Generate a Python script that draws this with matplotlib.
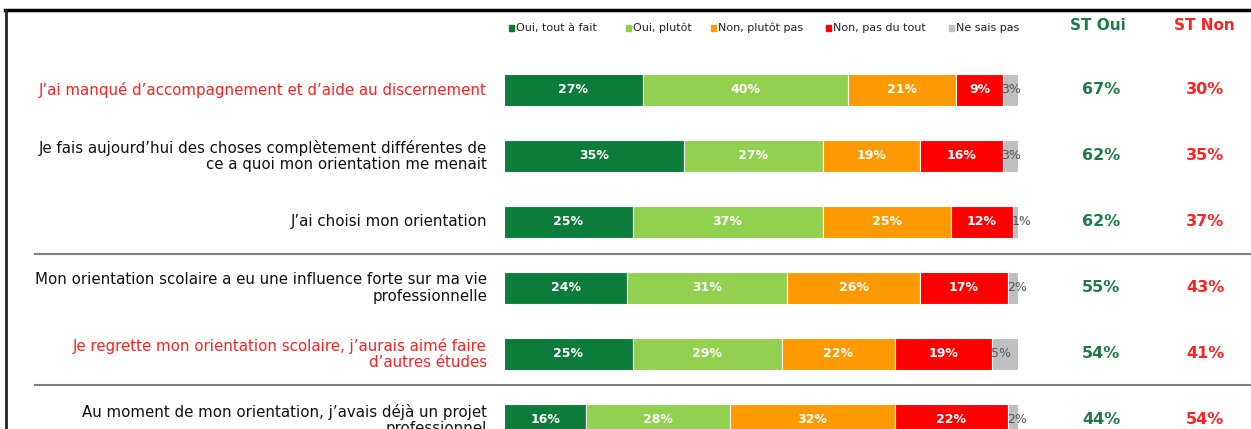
import matplotlib
matplotlib.use("Agg")
import matplotlib.pyplot as plt
import matplotlib.transforms as mtransforms
from matplotlib.lines import Line2D
from matplotlib.patches import Rectangle

plt.rcParams["font.family"] = ["DejaVu Sans"]

CATEGORIES = ["Oui, tout à fait", "Oui, plutôt", "Non, plutôt pas",
              "Non, pas du tout", "Ne sais pas"]
QUESTIONS = [
    "J’ai manqué d’accompagnement et d’aide au discernement",
    "Je fais aujourd’hui des choses complètement différentes de\nce a quoi mon orientation me menait",
    "J’ai choisi mon orientation",
    "Mon orientation scolaire a eu une influence forte sur ma vie\nprofessionnelle",
    "Je regrette mon orientation scolaire, j’aurais aimé faire\nd’autres études",
    "Au moment de mon orientation, j’avais déjà un projet\nprofessionnel",
]
HIGHLIGHT = [True, False, False, False, True, False]

OUI_TOUT = [27, 35, 25, 24, 25, 16]
OUI_PLUTOT = [40, 27, 37, 31, 29, 28]
NON_PLUTOT = [21, 19, 25, 26, 22, 32]
NON_PAS = [9, 16, 12, 17, 19, 22]
NSP = [3, 3, 1, 2, 5, 2]
ST_OUI = [67, 62, 62, 55, 54, 44]
ST_NON = [30, 35, 37, 43, 41, 54]

COLORS = ["#0B7C3A", "#92D050", "#FF9900", "#FF0000", "#BFBFBF"]
GREEN_TEXT = "#1E7B45"
RED_TEXT = "#FF2020"

W, H = 1251, 429
fig = plt.figure(figsize=(W / 100, H / 100), dpi=100)

# axes covering the bar area: x in percent, y in row index
ax = fig.add_axes([504 / W, 0, 514 / W, 1])
ax.set_xlim(0, 100)
ax.set_ylim((H - 90) / 66.0, -90 / 66.0)
ax.axis("off")

series = [OUI_TOUT, OUI_PLUTOT, NON_PLUTOT, NON_PAS, NSP]
n = len(QUESTIONS)
lefts = [0] * n
for k, (vals, color) in enumerate(zip(series, COLORS)):
    ax.barh(range(n), vals, left=lefts, height=0.485, color=color,
            edgecolor="white", linewidth=0.8, clip_on=False)
    for i, v in enumerate(vals):
        if k < 4:
            ax.text(lefts[i] + v / 2, i, f"{v}%", color="white",
                    fontsize=9, fontweight="bold", ha="center",
                    va="center")
        else:
            ax.text(lefts[i] - 0.2, i, f"{v}%", color="#555555",
                    fontsize=9, ha="left", va="center")
    lefts = [a + b for a, b in zip(lefts, vals)]

fig_x = mtransforms.blended_transform_factory(fig.transFigure, ax.transData)
for i, q in enumerate(QUESTIONS):
    ax.text(487 / W, i, q, transform=fig_x, ha="right", va="center",
            fontsize=10.8, color=RED_TEXT if HIGHLIGHT[i] else "#111111",
            linespacing=1.1, clip_on=False)
    ax.text(1101 / W, i, f"{ST_OUI[i]}%", transform=fig_x, ha="center",
            va="center", fontsize=11.5, fontweight="bold", color=GREEN_TEXT)
    ax.text(1205 / W, i, f"{ST_NON[i]}%", transform=fig_x, ha="center",
            va="center", fontsize=11.5, fontweight="bold", color=RED_TEXT)

# headers
fig.text(1098 / W, 1 - 25 / H, "ST Oui", ha="center", va="center",
         fontsize=11, fontweight="bold", color=GREEN_TEXT)
fig.text(1204 / W, 1 - 25 / H, "ST Non", ha="center", va="center",
         fontsize=11, fontweight="bold", color=RED_TEXT)

# legend
leg_x = [511, 628, 713, 828, 951]
for x, lab, color in zip(leg_x, CATEGORIES, COLORS):
    fig.patches.append(Rectangle(((x - 2.5) / W, 1 - 30.5 / H), 5 / W, 5 / H,
                                 transform=fig.transFigure, color=color))
    fig.text((x + 5) / W, 1 - 28 / H, lab, ha="left", va="center",
             fontsize=8, color="#222222")

# frame and separators
fig.lines.append(Line2D([5 / W, 1], [1 - 9.5 / H] * 2, transform=fig.transFigure,
                        color="black", linewidth=2.5))
fig.lines.append(Line2D([6 / W] * 2, [0, 1 - 9.5 / H], transform=fig.transFigure,
                        color="#222222", linewidth=2))
for y in [254, 385]:
    fig.lines.append(Line2D([35 / W, 1], [1 - y / H] * 2,
                            transform=fig.transFigure, color="#808080",
                            linewidth=1.5))

fig.savefig("out.png", dpi=100)
